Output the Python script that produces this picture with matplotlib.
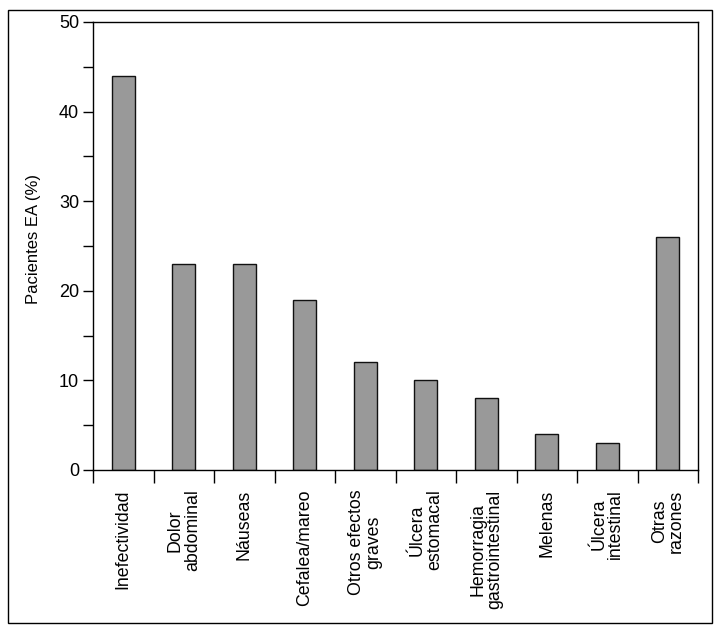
import numpy as np
import matplotlib
matplotlib.use('Agg')
import matplotlib.pyplot as plt
from matplotlib.patches import Rectangle

plt.rcParams['font.family'] = ['Liberation Sans', 'DejaVu Sans']

# datos
categorias = ['Inefectividad', 'Dolor\nabdominal', 'Náuseas', 'Cefalea/mareo',
              'Otros efectos\ngraves', 'Úlcera\nestomacal', 'Hemorragia\ngastrointestinal',
              'Melenas', 'Úlcera\nintestinal', 'Otras\nrazones']
porcentajes = [44, 23, 23, 19, 12, 10, 8, 4, 3, 26]

fig = plt.figure(figsize=(7.2, 6.29), dpi=100)
ax = fig.add_axes([93/720, 1 - 470/629, (698 - 93)/720, (470 - 22)/629])

x = np.arange(len(categorias))
ax.bar(x, porcentajes, width=0.38, color='#999999', edgecolor='#111111', linewidth=1.0, zorder=2)

ax.set_xlim(-0.5, len(categorias) - 0.5)
ax.set_ylim(0, 50)

# ticks del eje y
ax.set_yticks(np.arange(0, 51, 10))
ax.set_yticks(np.arange(5, 50, 10), minor=True)
ax.tick_params(axis='y', which='both', direction='out', length=7, width=1, labelsize=13, pad=3)

# ticks del eje x entre categorias, etiquetas centradas
ax.set_xticks(np.arange(-0.5, len(categorias), 1))
ax.set_xticklabels([])
ax.tick_params(axis='x', which='major', direction='out', length=9, width=1)
ax.set_xticks(x, minor=True)
ax.set_xticklabels(categorias, minor=True, rotation=90, fontsize=12.8, linespacing=1.0)
ax.tick_params(axis='x', which='minor', length=0, pad=14)

for s in ax.spines.values():
    s.set_linewidth(1)

ax.set_ylabel('Pacientes EA (%)', fontsize=12)
ax.yaxis.set_label_coords((41 - 93) / 605, (470 - 239) / 448)

# marco exterior
fig.patches.append(Rectangle((8/720, 1 - 623/629), (712 - 8)/720, (623 - 10)/629,
                             transform=fig.transFigure, fill=False, edgecolor='black', linewidth=1))

plt.savefig('out.png', dpi=100)
